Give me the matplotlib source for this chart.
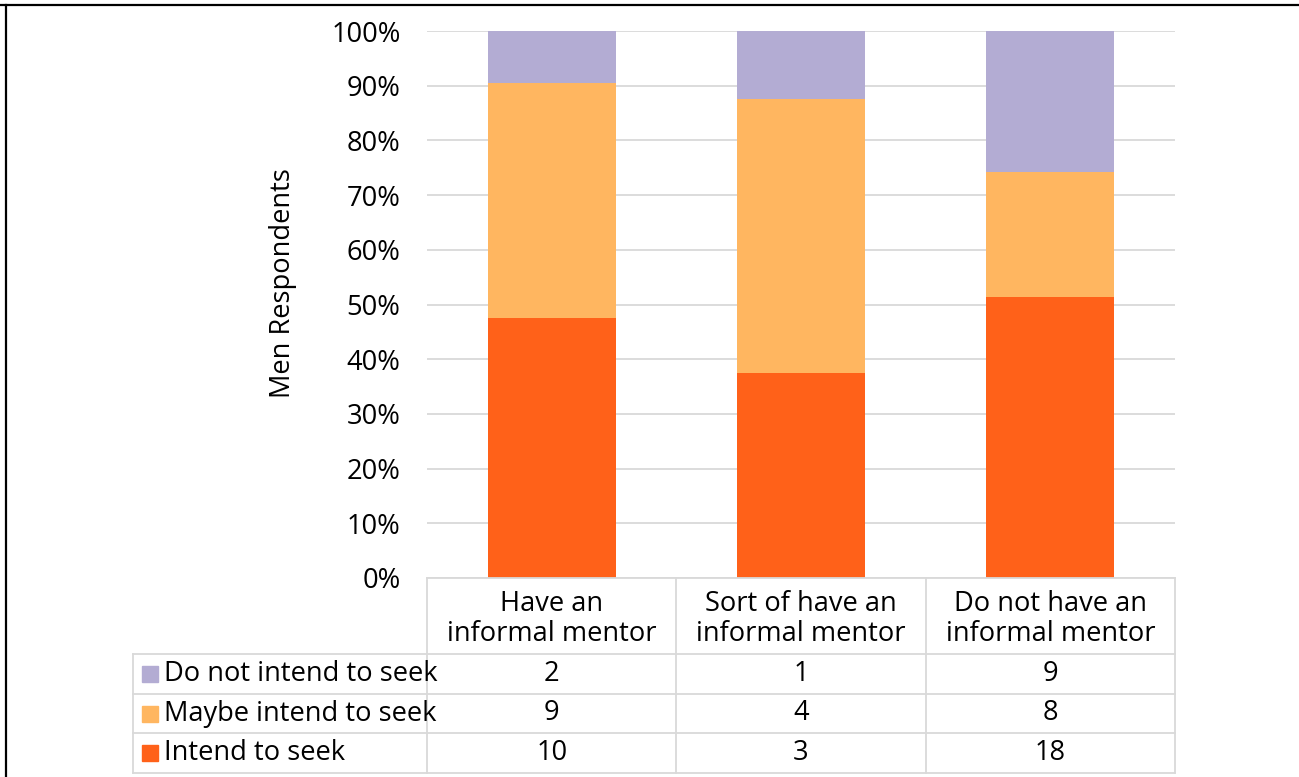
import matplotlib
matplotlib.use("Agg")
import matplotlib.pyplot as plt
from matplotlib.lines import Line2D
from matplotlib.ticker import PercentFormatter
import numpy as np

plt.rcParams['font.family'] = ['Open Sans', 'DejaVu Sans']

categories = ["Have an\ninformal mentor", "Sort of have an\ninformal mentor", "Do not have an\ninformal mentor"]
series_names = ["Do not intend to seek", "Maybe intend to seek", "Intend to seek"]
do_not_intend = [2, 1, 9]
maybe_intend = [9, 4, 8]
intend = [10, 3, 18]
colors = {"Intend to seek": "#FF6119", "Maybe intend to seek": "#FFB660", "Do not intend to seek": "#B3ACD3"}
y_ticks = [0, 10, 20, 30, 40, 50, 60, 70, 80, 90, 100]
y_label = "Men Respondents"

W, H = 1299, 777
fig = plt.figure(figsize=(W / 100, H / 100), dpi=100)
FS = 19.6
GRID = "#D9D9D9"

# main axes
ax = fig.add_axes([427 / W, 1 - 578 / H, 748 / W, 547 / H])
x = np.arange(len(categories))
totals = np.array(intend) + np.array(maybe_intend) + np.array(do_not_intend)
stack = [("Intend to seek", intend), ("Maybe intend to seek", maybe_intend), ("Do not intend to seek", do_not_intend)]
bottom = np.zeros(len(categories))
for name, vals in stack:
    pct = np.array(vals) / totals * 100
    ax.bar(x, pct, width=0.513, bottom=bottom, color=colors[name], zorder=3)
    bottom += pct
ax.set_xlim(-0.5, 2.5)
ax.set_ylim(0, 100)
ax.set_yticks(y_ticks)
ax.yaxis.set_major_formatter(PercentFormatter(decimals=0))
ax.set_xticks([])
ax.tick_params(axis='y', length=0, pad=19, labelsize=FS)
ax.yaxis.grid(True, color=GRID, linewidth=1.3, zorder=0)
for s in ax.spines.values():
    s.set_visible(False)
ax.set_ylabel(y_label, fontsize=FS, va='center')
ax.yaxis.set_label_coords((283 - 427) / 748, (578 - 283.5) / 547)

# data table axes (same category scale as main axes)
tab_left_px, tab_right_px = 133, 1175
cat_w = 748 / 3
x_left = -0.5 - (427 - tab_left_px) / cat_w
tax = fig.add_axes([tab_left_px / W, 1 - 773 / H, (tab_right_px - tab_left_px) / W, 195 / H])
tax.set_xlim(x_left, 2.5)
tax.set_ylim(195, 0)
tax.axis('off')
lw = 1.3
row_edges = [76, 116, 155, 195]
tax.plot([-0.5, 2.5], [0, 0], color=GRID, lw=lw, clip_on=False)
for ye in row_edges:
    tax.plot([x_left, 2.5], [ye, ye], color=GRID, lw=lw, clip_on=False)
for xv in [-0.5, 0.5, 1.5, 2.5]:
    tax.plot([xv, xv], [0, 195], color=GRID, lw=lw, clip_on=False)
tax.plot([x_left, x_left], [76, 195], color=GRID, lw=lw, clip_on=False)

for i, c in enumerate(categories):
    tax.text(i, 41, c, ha='center', va='center', fontsize=FS, linespacing=1.08)

rows = [("Do not intend to seek", do_not_intend), ("Maybe intend to seek", maybe_intend), ("Intend to seek", intend)]
for r, (name, vals) in enumerate(rows):
    yc = (row_edges[r] + row_edges[r + 1]) / 2
    tax.plot([x_left + 16.5 / cat_w], [yc], marker='s', markersize=11.2, color=colors[name], clip_on=False, linestyle='none')
    tax.text(x_left + 31 / cat_w, yc, name, ha='left', va='center', fontsize=FS)
    for i, v in enumerate(vals):
        tax.text(i, yc, str(v), ha='center', va='center', fontsize=FS)

# frame lines (top and left edges of the original crop)
fig.add_artist(Line2D([0, 1], [1 - 5 / H, 1 - 5 / H], transform=fig.transFigure, color='black', lw=1.6))
fig.add_artist(Line2D([6 / W, 6 / W], [0, 1 - 5 / H], transform=fig.transFigure, color='black', lw=1.6))

fig.savefig("out.png", dpi=100)
